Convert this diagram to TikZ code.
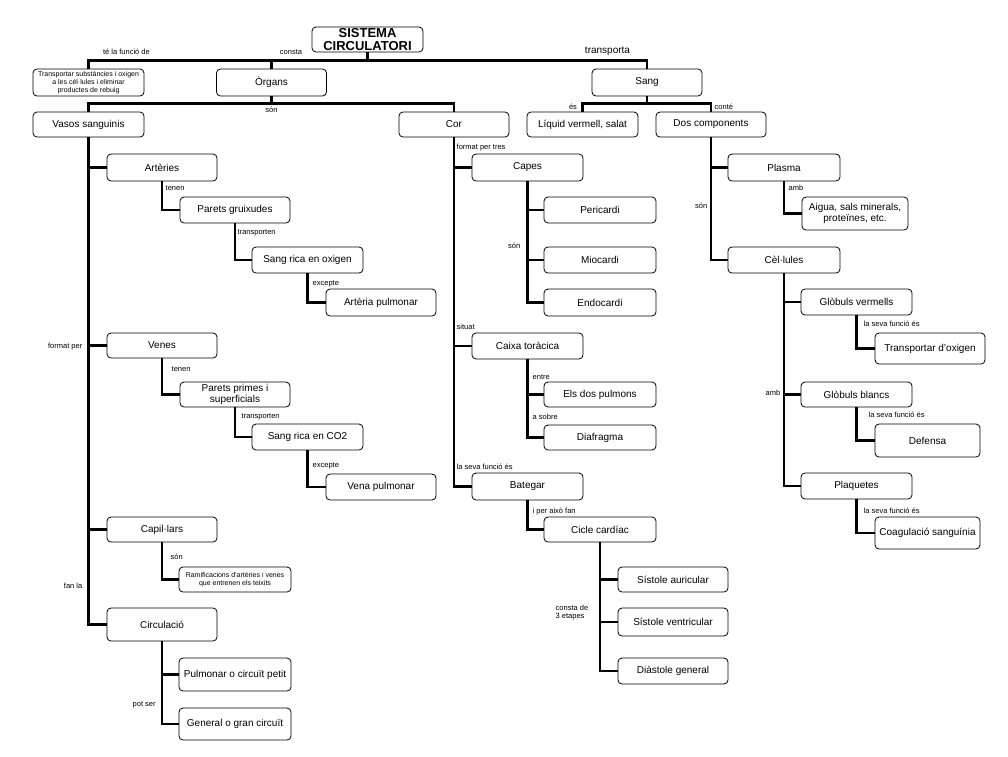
\documentclass[tikz,border=0pt]{standalone}
\usepackage{fontspec}
\setmainfont{Liberation Sans}
\usetikzlibrary{positioning}

\tikzset{
  concept/.style={draw, rounded corners=4pt, line width=0.8pt, minimum width=110pt,
    minimum height=26pt, inner sep=1pt, align=center, font=\fontsize{10}{11}\selectfont},
  tinytext/.style={font=\fontsize{7}{8}\selectfont},
  link/.style={inner sep=0.5pt, font=\fontsize{7.5}{8}\selectfont},
  conn/.style={line width=2.6pt},
}

\begin{document}
\begin{tikzpicture}[x=1pt, y=-1pt]
    \useasboundingbox (0,0) rectangle (1008,756);
    % Root
    \node[concept, minimum width=111pt, minimum height=25pt, inner sep=0pt,
          font=\bfseries\fontsize{13}{13}\selectfont] (sis) at (367.5,39.5) {SISTEMA\\CIRCULATORI};
    % First level
    \node[concept, minimum width=111pt, minimum height=27pt, tinytext] (funcio) at (88.5,82.5)
        {Transportar substàncies i oxigen\\a les cèl·lules i eliminar\\productes de rebuig};
    \node[concept, minimum height=27pt] (organs) at (271.5,82.5) {Òrgans};
    \node[concept, minimum height=27pt] (sang) at (647,82.5) {Sang};
    \node[concept, minimum width=111pt, minimum height=25pt] (vasos) at (88.5,124.5) {Vasos sanguinis};
    \node[concept, minimum height=25pt] (cor) at (454,124.5) {Cor};
    \node[concept, minimum width=111pt, minimum height=25pt] (liquid) at (582.5,124.5) {Líquid vermell, salat};
    \node[concept, minimum height=25pt] (dos) at (711,124.5) {Dos components};
    % Vasos sanguinis
    \node[concept, minimum height=27pt] (arteries) at (162,167.5) {Artèries};
    \node[concept] (gruix) at (235,210) {Parets gruixudes};
    \node[concept, minimum width=111pt] (oxi) at (307.5,260) {Sang rica en oxigen};
    \node[concept, minimum height=27pt] (artpulm) at (381,302.5) {Artèria pulmonar};
    \node[concept, minimum height=25pt] (venes) at (162,345.5) {Venes};
    \node[concept, minimum height=25pt, font=\fontsize{10}{11.5}\selectfont] (primes) at (235,394.5) {Parets primes i\\superficials};
    \node[concept, minimum width=111pt] (co2) at (307.5,437) {Sang rica en CO2};
    \node[concept] (venapulm) at (381,487) {Vena pulmonar};
    \node[concept, minimum height=25pt] (capil) at (162,529.5) {Capil·lars};
    \node[concept, minimum width=112pt, minimum height=25pt, tinytext] (ramif) at (235,579.5)
        {Ramificacions d'artèries i venes\\que entrenen els teixits};
    \node[concept, minimum height=33pt] (circ) at (162,624.5) {Circulació};
    \node[concept, minimum width=112pt, minimum height=33pt] (petit) at (235,674.5) {Pulmonar o circuït petit};
    \node[concept, minimum width=112pt, minimum height=32pt] (gran) at (235,724) {General o gran circuït};
    % Cor
    \node[concept, minimum width=111pt, minimum height=27pt] (capes) at (527.5,167.5) {Capes};
    \node[concept, minimum width=112pt] (peric) at (600,210) {Pericardi};
    \node[concept, minimum width=112pt] (mioc) at (600,260) {Miocardi};
    \node[concept, minimum width=112pt, minimum height=27pt] (endoc) at (600,302.5) {Endocardi};
    \node[concept, minimum width=111pt] (caixa) at (527.5,346) {Caixa toràcica};
    \node[concept, minimum width=112pt, minimum height=25pt] (pulmons) at (600,394.5) {Els dos pulmons};
    \node[concept, minimum width=112pt, minimum height=25pt] (diaf) at (600,437.5) {Diafragma};
    \node[concept, minimum width=111pt, minimum height=27pt] (bategar) at (527.5,486.5) {Bategar};
    \node[concept, minimum width=112pt, minimum height=25pt] (cicle) at (600,529.5) {Cicle cardíac};
    \node[concept, minimum height=25pt] (auric) at (673,579.5) {Sístole auricular};
    \node[concept, minimum height=28pt] (ventr) at (673,622) {Sístole ventricular};
    \node[concept] (diast) at (673,671) {Diàstole general};
    % Sang
    \node[concept, minimum width=112pt, minimum height=27pt] (plasma) at (784,167.5) {Plasma};
    \node[concept, minimum width=106pt, minimum height=33pt] (aigua) at (855,213.5) {Aigua, sals minerals,\\proteïnes, etc.};
    \node[concept, minimum width=112pt] (cel) at (784,260) {Cèl·lules};
    \node[concept, minimum width=111pt] (vermells) at (856.5,302) {Glòbuls vermells};
    \node[concept, minimum height=31pt] (oxigen) at (930,348.5) {Transportar d'oxigen};
    \node[concept, minimum width=111pt, minimum height=25pt] (blancs) at (856.5,394.5) {Glòbuls blancs};
    \node[concept, minimum width=105pt, minimum height=33pt] (defensa) at (927.5,440.5) {Defensa};
    \node[concept, minimum width=111pt] (plaq) at (856.5,486) {Plaquetes};
    \node[concept, minimum width=105pt, minimum height=32pt] (coag) at (927.5,533) {Coagulació sanguínia};
    % Connectors
    \foreach \b in {funcio, organs, sang}
        \draw[conn] (sis.south) -- ++(0,8) -| (\b.north);
    \foreach \b in {vasos, cor}
        \draw[conn] (organs.south) -- ++(0,7) -| (\b.north);
    \foreach \b in {liquid, dos}
        \draw[conn] (sang.south) -- ++(0,7) -| (\b.north);
    \foreach \a/\b in {vasos/arteries, vasos/venes, vasos/capil, vasos/circ,
                       arteries/gruix, gruix/oxi, oxi/artpulm,
                       venes/primes, primes/co2, co2/venapulm,
                       capil/ramif, circ/petit, circ/gran,
                       cor/capes, cor/caixa, cor/bategar,
                       capes/peric, capes/mioc, capes/endoc,
                       caixa/pulmons, caixa/diaf, bategar/cicle,
                       cicle/auric, cicle/ventr, cicle/diast,
                       dos/plasma, dos/cel, plasma/aigua,
                       cel/vermells, cel/blancs, cel/plaq,
                       vermells/oxigen, blancs/defensa, plaq/coag}
        \draw[conn] (\a.south) |- (\b.west);
    % Link labels
    \node[link] (lfuncio) at (126.5,52) {té la funció de};
    \node[link] (lconsta) at (291,52) {consta};
    \node[link, font=\fontsize{10}{11}\selectfont] (ltransp) at (607.5,51) {transporta};
    \node[link] (lorgans) at (271.5,110) {són};
    \node[link] (les) at (573,107) {és};
    \node[link, right] (lconte) at (714,107) {conté};
    \node[link, right] (lformat) at (456,148) {format per tres};
    \node[link, right] (ltenen) at (165,188) {tenen};
    \node[link, right] (ltransa) at (237,233) {transporten};
    \node[link, right] (lexca) at (312,284) {excepte};
    \node[link, left] (lcapes) at (521,246) {són};
    \node[link, left] (ldos) at (708,206) {són};
    \node[link, right] (lplasma) at (788,188) {amb};
    \node[link, right] (lverm) at (863,324) {la seva funció és};
    \node[link, left] (lcel) at (781,393) {amb};
    \node[link, right] (lblancs) at (868,415) {la seva funció és};
    \node[link, right] (lplaq) at (863,511) {la seva funció és};
    \node[link, right] (lsituat) at (456,327) {situat};
    \node[link, left] (lvasos) at (83,347) {format per};
    \node[link, right] (ltenenb) at (171,369) {tenen};
    \node[link, right] (ltransb) at (241,417) {transporten};
    \node[link, right] (lexcb) at (312,466) {excepte};
    \node[link, right] (lentre) at (532,377) {entre};
    \node[link, right] (lsobre) at (532,417) {a sobre};
    \node[link, right] (lbateg) at (456,467) {la seva funció és};
    \node[link, right] (laixo) at (532,512) {i per això fan};
    \node[link, right, align=left] (letapes) at (555,613) {consta de\\3 etapes};
    \node[link, right] (lcapil) at (170,557) {són};
    \node[link, left] (lfan) at (83,586) {fan la};
    \node[link, right] (lpot) at (132,705) {pot ser};
\end{tikzpicture}
\end{document}
